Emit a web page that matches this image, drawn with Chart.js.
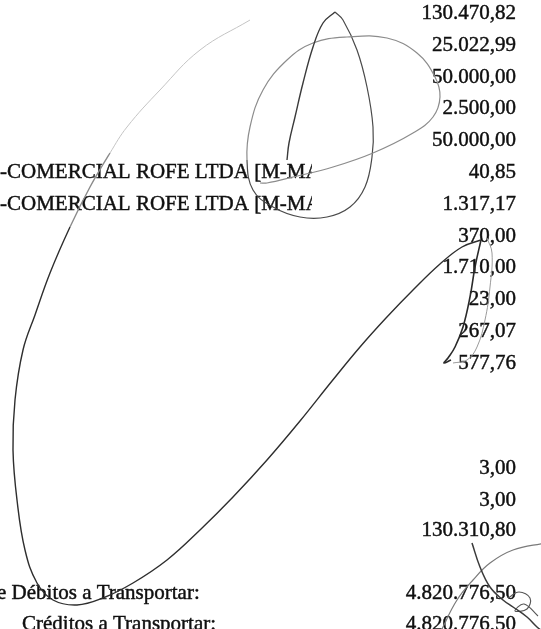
<!DOCTYPE html>
<html>
<head>
<meta charset="utf-8">
<script src="https://cdn.jsdelivr.net/npm/chart.js@4.4.1/dist/chart.umd.min.js"></script>
<style>
  html, body { margin: 0; padding: 0; background: #fff; }
  #wrap { width: 541px; height: 629px; }
</style>
</head>
<body>
<div id="wrap"><canvas id="ledger"></canvas></div>
<script>
// amounts column, with the ledger line each one sits on
var amounts = ['130.470,82', '25.022,99', '50.000,00', '2.500,00', '50.000,00', '40,85', '1.317,17',
               '370,00', '1.710,00', '23,00', '267,07', '577,76', '3,00', '3,00', '130.310,80',
               '4.820.776,50', '4.820.776,50'];
var amountLines = [0, 1, 2, 3, 4, 5, 6, 7, 8, 9, 10, 11, 14.3, 15.3, 16.25, 18.25, 19.2];

// history text on the left (cut by the column edges of the scan)
var historyText = ['-COMERCIAL ROFE LTDA [M-MA', '-COMERCIAL ROFE LTDA [M-MA'];
var historyLines = [5, 6];
var footerText = ['e Débitos a Transportar:', 'Créditos a Transportar:'];
var footerLines = [18.25, 19.2];

// signature strokes, traced in page units
var bigLoop = [[250,20],[200,50],[160,90],[127,127],[110,153],[90,187],[70,227],[50,273],[35,315],
               [23,350],[15,400],[13,450],[17,500],[25,550],[37,583],[53,600],[77,605],[103,598],
               [133,583],[167,560],[200,530],[233,497],[267,460],[300,421],[332,381],[360,347],
               [386,318],[413,290],[440,264],[462,247],[481,240]];
var downStroke = [[481,240],[475,267],[470,297],[463,327],[455,347],[448,358],[444,363],[451,360]];
var thinStroke = [[487,238],[492,253],[490,287],[485,320],[477,347],[467,360],[453,363]];
var apexStroke = [[287,160],[289,143],[295,117],[303,83],[313,47],[323,23],[335,12]];
var ovalStroke = [[335,12],[343,20],[357,50],[367,87],[373,127],[372,157],[365,187],[350,207],
                  [327,217],[300,217],[273,207],[253,190],[247,160],[250,127],[263,90],[287,60],
                  [313,43],[347,37],[387,38],[417,53],[435,77],[440,97],[433,117],[413,133],
                  [373,153],[333,167],[293,177],[267,183],[260,183]];
var tailStroke = [[472,543],[480,567],[490,587],[503,600],[513,607],[527,617],[537,627],[545,633]];
var hookStroke = [[545,543],[513,550],[490,563],[473,580],[457,600],[443,627],[440,635]];
var curlStroke = [[508,598],[519,592],[530,598],[527,609],[515,611],[524,604],[538,616]];

function pts(arr) {
    return arr.map(function (p) { return {x: p[0], y: p[1]}; });
}

function stroke(arr, color, width) {
    return {data: pts(arr), borderColor: color, borderWidth: width, tension: 0.4, pointRadius: 0, fill: false};
}

//draws the ledger text under the strokes
var ledgerText = {
    id: 'ledgerText',
    beforeDatasetsDraw: function (chart) {
        var ctx = chart.ctx;
        var x = chart.scales.x;
        var row = chart.scales.row;
        ctx.save();
        ctx.fillStyle = '#101010';
        ctx.strokeStyle = '#101010';
        ctx.lineWidth = 0.45;
        ctx.font = '21px "Liberation Serif", "Times New Roman", serif';
        ctx.textBaseline = 'alphabetic';

        function put(t, px, line) {
            var py = row.getPixelForValue(line) + 7;
            ctx.fillText(t, px, py);
            ctx.strokeText(t, px, py);
        }

        ctx.textAlign = 'right';
        for (var i = 0; i < amounts.length; i++) {
            put(amounts[i], x.getPixelForValue(516), amountLines[i]);
        }

        ctx.textAlign = 'left';
        ctx.save();
        ctx.beginPath();
        ctx.rect(0, 0, x.getPixelForValue(312), chart.height);
        ctx.clip();
        for (var j = 0; j < historyText.length; j++) {
            put(historyText[j], x.getPixelForValue(0), historyLines[j]);
        }
        ctx.restore();

        put(footerText[0], x.getPixelForValue(-3), footerLines[0]);
        put(footerText[1], x.getPixelForValue(22), footerLines[1]);
        ctx.restore();
    }
};

var loop = stroke(bigLoop, '#333', 1.4);
loop.segment = {
    borderColor: function (c) { return c.p0DataIndex < 4 ? '#c4c4c4' : (c.p0DataIndex < 6 ? '#8a8a8a' : '#2e2e2e'); },
    borderWidth: function (c) { return c.p0DataIndex < 4 ? 1 : 1.4; }
};
var oval = stroke(ovalStroke, '#555', 1.2);
oval.segment = {
    borderColor: function (c) { return c.p0DataIndex < 12 ? '#4a4a4a' : '#8c8c8c'; }
};

var ctx = document.getElementById('ledger').getContext('2d');
var myChart = new Chart(ctx, {
    type: 'line',
    data: {
        datasets: [
            loop,
            stroke(downStroke, '#2a2a2a', 1.6),
            stroke(thinStroke, '#9a9a9a', 1),
            stroke(apexStroke, '#3a3a3a', 1.4),
            oval,
            stroke(tailStroke, '#3a3a3a', 1.5),
            stroke(hookStroke, '#7a7a7a', 1.2),
            stroke(curlStroke, '#555', 1.1)
        ]
    },
    options: {
        animation: false,
        responsive: true,
        maintainAspectRatio: false,
        layout: { padding: 0 },
        plugins: { legend: { display: false }, tooltip: { enabled: false } },
        scales: {
            x: { type: 'linear', min: 0, max: 541, display: false },
            y: { type: 'linear', min: 0, max: 629, reverse: true, display: false },
            row: { type: 'linear', min: -12 / 31.8, max: (629 - 12) / 31.8, reverse: true, display: false }
        }
    },
    plugins: [ledgerText]
});
</script>
</body>
</html>
